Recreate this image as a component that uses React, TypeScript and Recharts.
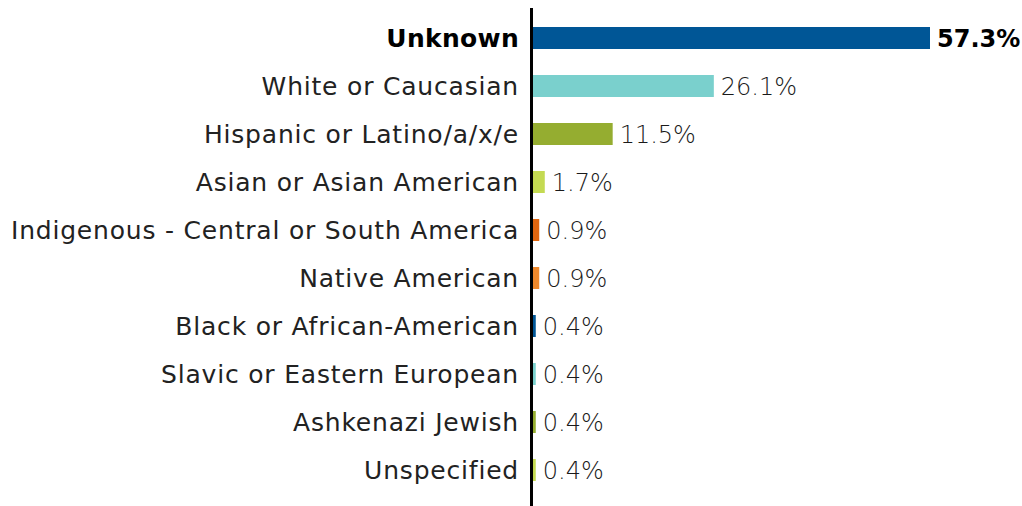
import React from 'react';
import { BarChart, Bar, XAxis, YAxis, Cell, LabelList } from 'recharts';

const categories = [
  'Unknown',
  'White or Caucasian',
  'Hispanic or Latino/a/x/e',
  'Asian or Asian American',
  'Indigenous - Central or South America',
  'Native American',
  'Black or African-American',
  'Slavic or Eastern European',
  'Ashkenazi Jewish',
  'Unspecified',
];
const percents = [57.3, 26.1, 11.5, 1.7, 0.9, 0.9, 0.4, 0.4, 0.4, 0.4];
const barColors = [
  '#005696', '#7ad0cd', '#95ad30', '#c4da52', '#e2660f',
  '#f0892c', '#005696', '#7ad0cd', '#95ad30', '#c4da52',
];

const data = categories.map((name, i) => ({ name, value: percents[i] }));

const FONT = '"DejaVu Sans", sans-serif';

// y-axis label, first row is bold
const CategoryTick = (props: any) => {
  const { x, y, payload, index } = props;
  const bold = index === 0;
  return (
    <text
      x={x}
      y={y}
      dy={9}
      textAnchor="end"
      fontFamily={FONT}
      fontSize={25}
      letterSpacing={bold ? 0.3 : 0.8}
      fontWeight={bold ? 700 : 400}
      fill={bold ? '#000' : '#222'}
    >
      {payload.value}
    </text>
  );
};

const ValueLabel = (props: any) => {
  const { x, y, width, height, value, index } = props;
  const bold = index === 0;
  return (
    <text
      x={x + width + 7}
      y={y + height / 2}
      dy={9}
      fontFamily={FONT}
      fontSize={24}
      fontWeight={bold ? 700 : 300}
      fill={bold ? '#000' : '#1a1a1a'}
    >
      {value.toFixed(1)}%
    </text>
  );
};

export default function App() {
  return (
    <div style={{ position: 'absolute', left: 0, top: 0, width: 1022, height: 506, background: '#fff' }}>
      <BarChart
        width={1022}
        height={506}
        data={data}
        layout="vertical"
        margin={{ top: 14, right: 92, bottom: 12, left: 0 }}
      >
        <XAxis type="number" domain={[0, 57.3]} hide />
        <YAxis
          type="category"
          dataKey="name"
          width={533}
          axisLine={false}
          tickLine={false}
          tickMargin={8}
          interval={0}
          tick={<CategoryTick />}
        />
        <Bar dataKey="value" barSize={22} isAnimationActive={false}>
          {data.map((d, i) => (
            <Cell key={d.name} fill={barColors[i]} />
          ))}
          <LabelList dataKey="value" content={<ValueLabel />} />
        </Bar>
      </BarChart>
      {/* vertical baseline, taller than the plot area */}
      <div style={{ position: 'absolute', left: 530, top: 8, width: 3, height: 498, background: '#000' }} />
    </div>
  );
}
